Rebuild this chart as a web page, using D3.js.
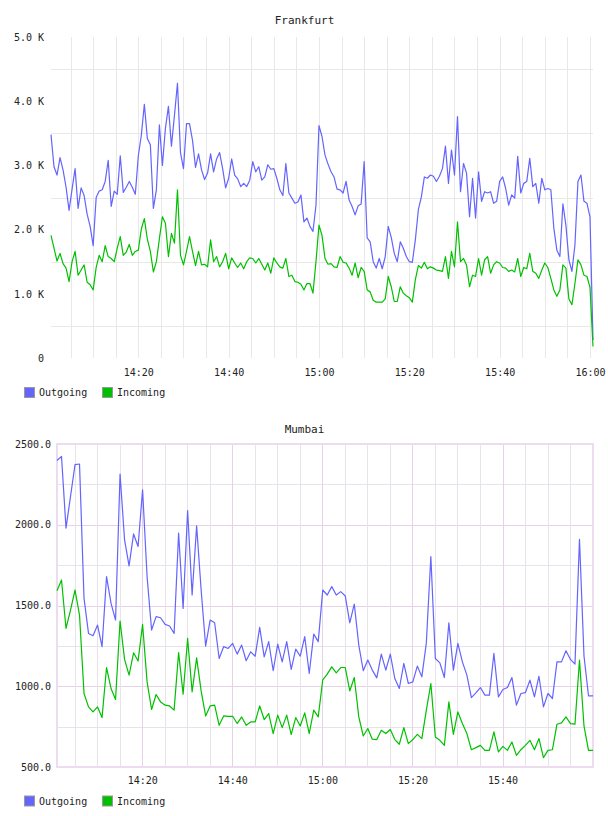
<!DOCTYPE html>
<html>
<head>
<meta charset="utf-8">
<script src="https://cdn.jsdelivr.net/npm/d3@7"></script>
<style>
body { margin: 0; background: #fff; }
text { font-family: "DejaVu Sans Mono", monospace; fill: #222; }
</style>
</head>
<body>
<script>
var seriesNames = ["Outgoing", "Incoming"];
var seriesColors = ["#6464ff", "#00c000"];

// Frankfurt: one sample every 40 s, 14:00:40 -> 16:00:40
var fraStep = 40;
var fraOut = [3480, 2980, 2850, 3120, 2930, 2660, 2300, 2630, 2950, 2330, 2650,
	2530, 2240, 2050, 1750, 2500, 2600, 2620, 2750, 3080, 2360,
	2600, 2550, 3150, 2580, 2660, 2750, 2660, 2550, 3150, 3470,
	3950, 3420, 3320, 2330, 2620, 3630, 3000, 3580, 3920, 3300,
	3780, 4280, 3200, 2950, 3650, 3650, 3390, 2970, 3180, 2930,
	2780, 2880, 3180, 2900, 3100, 3200, 2950, 2650, 2800, 3100,
	2850, 2790, 2670, 2720, 2670, 2770, 3060, 2900, 2980, 2770,
	2820, 3010, 2940, 2950, 2800, 2620, 2530, 3030, 2570, 2490,
	2410, 2430, 2540, 2120, 2180, 2050, 1970, 2380, 3620, 3450,
	3160, 3020, 2900, 2820, 2630, 2620, 2570, 2750, 2460, 2360,
	2230, 2370, 2400, 3060, 1870, 1810, 1500, 1400, 1550, 1390,
	1580, 2050, 1880, 1630, 1500, 1810, 1710, 1580, 1500, 1490,
	1840, 2310, 2510, 2820, 2800, 2850, 2830, 2750, 2830, 2950,
	3300, 2720, 3240, 2850, 3760, 2590, 3030, 2880, 2200, 2800,
	2180, 2900, 2440, 2590, 2570, 2590, 2410, 2440, 2750, 2820,
	2640, 2380, 2540, 2490, 3140, 2570, 2720, 2750, 3110, 2670,
	2720, 2410, 2800, 2620, 2640, 2620, 2020, 1680, 1580, 2400,
	2070, 1530, 1350, 1760, 2750, 2850, 2440, 2410, 2200, 280];
var fraIn = [1910, 1710, 1510, 1630, 1470, 1400, 1190, 1500, 1660, 1290, 1370,
	1450, 1180, 1140, 1060, 1410, 1600, 1500, 1750, 1580, 1550,
	1500, 1710, 1890, 1600, 1650, 1770, 1600, 1660, 1680, 2010,
	2170, 1850, 1660, 1340, 1500, 1860, 2200, 2100, 1580, 1940,
	1790, 2620, 1600, 1450, 1660, 1890, 1660, 1440, 1660, 1450,
	1460, 1420, 1840, 1500, 1580, 1420, 1500, 1630, 1390, 1560,
	1480, 1410, 1480, 1390, 1500, 1560, 1550, 1480, 1550, 1460,
	1370, 1480, 1320, 1560, 1480, 1420, 1400, 1550, 1270, 1290,
	1190, 1180, 1150, 1060, 1160, 1160, 1010, 1500, 2070, 1910,
	1550, 1460, 1470, 1420, 1410, 1580, 1490, 1480, 1400, 1290,
	1480, 1250, 1410, 1350, 1060, 1030, 900, 870, 870, 870,
	920, 1270, 1110, 880, 880, 1110, 1010, 970, 940, 870,
	1220, 1440, 1400, 1490, 1390, 1420, 1400, 1370, 1360, 1350,
	1580, 1240, 1660, 1420, 2120, 1500, 1550, 1450, 1110, 1290,
	1270, 1550, 1290, 1530, 1580, 1320, 1450, 1500, 1480, 1410,
	1400, 1350, 1370, 1340, 1550, 1270, 1410, 1390, 1630, 1350,
	1320, 1240, 1370, 1480, 1410, 1240, 1060, 960, 1060, 1450,
	1400, 920, 830, 1160, 1530, 1450, 1290, 1270, 1100, 180];
var fraYTicks = [0, 1000, 2000, 3000, 4000, 5000];
var fraYGrid = [500, 1500, 2500, 3500, 4500];

// Mumbai: one sample per minute, 14:01:05 -> 16:00:05
var mumStep = 60;
var mumOut = [2398, 2423, 1979, 2175, 2372, 2376, 1544, 1327, 1313, 1379,
	1245, 1679, 1513, 1410, 2314, 1906, 1745, 1943, 1865, 2216,
	1679, 1348, 1431, 1424, 1383, 1373, 1327, 1948, 1482, 2088,
	1565, 1993, 1596, 1249, 1410, 1393, 1172, 1245, 1234, 1265,
	1199, 1255, 1158, 1213, 1186, 1364, 1182, 1276, 1096, 1261,
	1151, 1276, 1104, 1230, 1186, 1307, 1079, 1323, 1276, 1596,
	1565, 1617, 1565, 1586, 1559, 1393, 1509, 1255, 1096, 1162,
	1100, 1052, 1199, 1100, 1199, 1048, 986, 1141, 1017, 1027,
	1125, 1058, 1269, 1803, 1172, 1145, 1054, 1393, 1100, 1265,
	1151, 1069, 930, 959, 992, 945, 945, 1203, 934, 980,
	992, 1054, 883, 955, 961, 1038, 934, 1062, 872, 955,
	924, 1151, 1151, 1220, 1166, 1137, 1910, 1187, 941, 941];
var mumIn = [1592, 1658, 1358, 1472, 1596, 1441, 955, 872, 841, 872,
	806, 1116, 986, 918, 1404, 1166, 1069, 1207, 1156, 1383,
	1027, 856, 949, 903, 883, 878, 852, 1209, 951, 1296,
	965, 1176, 971, 816, 878, 883, 758, 816, 814, 814,
	769, 810, 758, 779, 779, 878, 794, 831, 707, 821,
	744, 821, 701, 806, 754, 835, 707, 852, 810, 1040,
	1075, 1120, 1083, 1116, 1116, 971, 1054, 810, 692, 738,
	672, 670, 727, 707, 732, 670, 641, 744, 645, 670,
	702, 676, 852, 1017, 686, 665, 634, 903, 702, 841,
	769, 707, 607, 620, 634, 603, 603, 717, 593, 628,
	603, 655, 572, 607, 634, 665, 607, 676, 558, 603,
	607, 765, 773, 810, 769, 765, 1162, 754, 603, 603];
var mumYTicks = [500, 1000, 1500, 2000, 2500];
var mumYGrid = [750, 1000, 1250, 1500, 1750, 2000, 2250];

var width = 608, height = 816;
var svg = d3.select("body").append("svg")
	.attr("width", width)
	.attr("height", height);

function toSeries(start, step, values) {
	return values.map(function (v, i) {
		return { t: new Date(start.getTime() + i * step * 1000), v: v };
	});
}

function drawChart(c) {
	var g = svg.append("g");
	var x = d3.scaleTime().domain(c.xDomain).range([c.left, c.right]);
	var y = d3.scaleLinear().domain(c.yDomain).range([c.bottom, c.top]);

	g.append("text")
		.attr("x", 304.5)
		.attr("y", c.titleY)
		.attr("text-anchor", "middle")
		.attr("dominant-baseline", "central")
		.style("font-size", "11px")
		.text(c.title);

	// grid
	g.selectAll(".hgrid")
		.data(c.yGrid)
		.enter()
		.append("line")
		.attr("x1", c.left).attr("x2", c.right)
		.attr("y1", function (d) { return Math.round(y(d)) + 0.5; })
		.attr("y2", function (d) { return Math.round(y(d)) + 0.5; })
		.style("stroke", function (d) { return c.major && d % 500 == 0 ? "#e6d2e6" : c.gridColor; });

	var minutes = x.ticks(d3.timeMinute.every(5)).filter(function (d) {
		return x(d) > c.left + 2 && x(d) < c.right - 1;
	});
	g.selectAll(".vgrid")
		.data(minutes)
		.enter()
		.append("line")
		.attr("x1", function (d) { return Math.round(x(d)) + 0.5; })
		.attr("x2", function (d) { return Math.round(x(d)) + 0.5; })
		.attr("y1", c.top).attr("y2", c.bottom)
		.style("stroke", function (d) { return c.major && d.getMinutes() % 20 == 0 ? "#e6d2e6" : c.gridColor; });

	if (c.border) {
		g.append("rect")
			.attr("x", c.left).attr("y", c.top)
			.attr("width", c.right - c.left).attr("height", c.bottom - c.top)
			.style("fill", "none")
			.style("stroke", "#eddcef")
			.style("stroke-width", 2);
	}

	// axes
	var ya = g.append("g")
		.attr("transform", "translate(" + c.left + ",0)")
		.call(d3.axisLeft(y).tickValues(c.yTicks).tickFormat(c.yFormat).tickSize(0).tickPadding(c.yPad));
	var xa = g.append("g")
		.attr("transform", "translate(0," + c.bottom + ")")
		.call(d3.axisBottom(x).ticks(d3.timeMinute.every(20)).tickFormat(d3.timeFormat("%H:%M")).tickSize(0).tickPadding(c.xPad));
	[ya, xa].forEach(function (a) {
		a.select(".domain").remove();
		a.selectAll("text").style("font-family", "DejaVu Sans Mono, monospace").style("font-size", "10px").style("fill", "#222");
	});
	xa.selectAll(".tick").filter(function (d) { return x(d) < c.left + 10 || x(d) > c.right - 2; }).remove();

	// lines
	var line = d3.line()
		.x(function (d) { return x(d.t); })
		.y(function (d) { return y(d.v); });
	[c.out, c.inc].forEach(function (vals, k) {
		g.append("path")
			.datum(toSeries(c.xDomain[0], c.step, vals))
			.attr("d", line)
			.style("fill", "none")
			.style("stroke", seriesColors[k])
			.style("stroke-width", 1.2)
			.style("stroke-linejoin", "round");
	});

	// legend
	var leg = g.selectAll(".leg")
		.data(seriesNames)
		.enter()
		.append("g")
		.attr("transform", function (d, i) { return "translate(" + (i ? 102 : 24) + "," + c.legendY + ")"; });
	leg.append("rect")
		.attr("x", 0.5).attr("y", -4.5)
		.attr("width", 10).attr("height", 10)
		.style("fill", function (d, i) { return seriesColors[i]; })
		.style("stroke", "#999");
	leg.append("text")
		.attr("x", 15).attr("y", 0.5)
		.attr("dominant-baseline", "central")
		.style("font-size", "10px")
		.text(function (d) { return d; });
}

drawChart({
	title: "Frankfurt", titleY: 20,
	left: 51, right: 593, top: 37, bottom: 358,
	xDomain: [new Date(2020, 0, 1, 14, 0, 40), new Date(2020, 0, 1, 16, 0, 40)],
	yDomain: [0, 5000],
	yTicks: fraYTicks, yGrid: fraYGrid,
	yFormat: function (d) { return d == 0 ? "0" : (d / 1000).toFixed(1) + " K"; },
	yPad: 7, xPad: 11,
	gridColor: "#e8e8e8", major: false, border: false,
	step: fraStep, out: fraOut, inc: fraIn,
	legendY: 392
});

drawChart({
	title: "Mumbai", titleY: 429,
	left: 57, right: 593, top: 444, bottom: 767,
	xDomain: [new Date(2020, 0, 1, 14, 1, 5), new Date(2020, 0, 1, 16, 0, 5)],
	yDomain: [500, 2500],
	yTicks: mumYTicks, yGrid: mumYGrid,
	yFormat: function (d) { return d.toFixed(1); },
	yPad: 6, xPad: 10,
	gridColor: "#e8e2ea", major: true, border: true,
	step: mumStep, out: mumOut, inc: mumIn,
	legendY: 800.5
});
</script>
</body>
</html>
